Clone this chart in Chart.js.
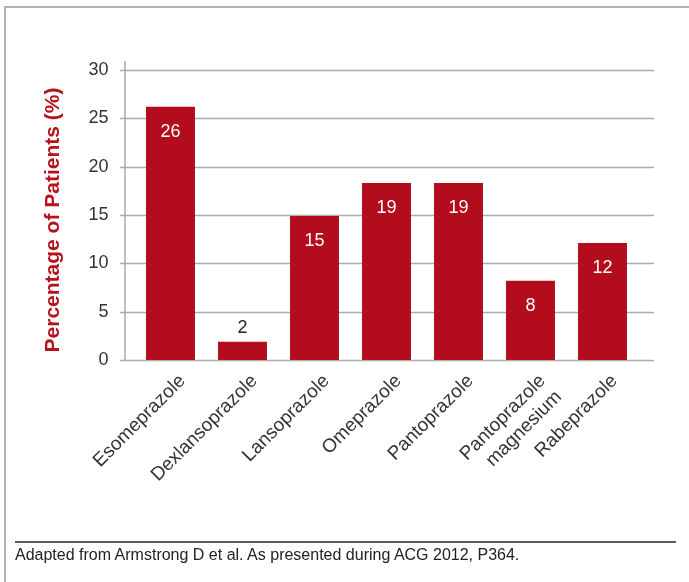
<!DOCTYPE html>
<html>
<head>
<meta charset="utf-8">
<script src="https://cdn.jsdelivr.net/npm/chart.js@4/dist/chart.umd.min.js"></script>
<style>
  html, body { margin: 0; padding: 0; background: #fff; }
  #wrap { position: relative; width: 689px; height: 582px; overflow: hidden; }
  #frame { position: absolute; left: 4px; top: 6px; width: 700px; height: 600px;
           border-top: 2px solid #b0b0b0; border-left: 2px solid #b0b0b0; pointer-events: none; }
  #c { position: absolute; left: 0; top: 0; }
  #foot { position: absolute; left: 15px; top: 541px; width: 661px; border-top: 2px solid #5a5a5a;
          font-family: "Liberation Sans", Arial, sans-serif; font-size: 16px; color: #222;
          padding-top: 2px; line-height: 19px; }
</style>
</head>
<body>
<div id="wrap">
  <canvas id="c" width="689" height="582"></canvas>
  <div id="frame"></div>
  <div id="foot">Adapted from Armstrong D et al. As presented during ACG 2012, P364.</div>
</div>
<script>
const categories = ["Esomeprazole", "Dexlansoprazole", "Lansoprazole", "Omeprazole", "Pantoprazole", ["Pantoprazole", "magnesium"], "Rabeprazole"];
const values = [26.2, 1.9, 14.9, 18.3, 18.3, 8.2, 12.1];
const valueLabels = ["26", "2", "15", "19", "19", "8", "12"];
const yTicks = [0, 5, 10, 15, 20, 25, 30];
const yTitle = "Percentage of Patients (%)";

const RED = "#b30d1d";
const GRID = "#ababab";
const FONT = "'Liberation Sans', Arial, sans-serif";

const gridPlugin = {
  id: "gridPlugin",
  beforeDatasetsDraw(chart) {
    const { ctx, chartArea, scales } = chart;
    const y = scales.y;
    const left = chartArea.left - 14.5, right = chartArea.right + 15.5;
    ctx.save();
    ctx.strokeStyle = GRID;
    ctx.lineWidth = 1.5;
    yTicks.forEach(v => {
      const py = Math.round(y.getPixelForValue(v)) + 0.5;
      ctx.beginPath(); ctx.moveTo(left, py); ctx.lineTo(right, py); ctx.stroke();
    });
    const ax = chartArea.left - 9.5;
    ctx.beginPath();
    ctx.moveTo(ax, y.getPixelForValue(30) - 9);
    ctx.lineTo(ax, y.getPixelForValue(0));
    ctx.stroke();
    // y-axis title
    ctx.translate(53, (chartArea.top + chartArea.bottom) / 2 + 5);
    ctx.rotate(-Math.PI / 2);
    ctx.fillStyle = "#b5121b";
    ctx.font = "bold 21px " + FONT;
    ctx.textAlign = "center";
    ctx.textBaseline = "middle";
    ctx.fillText(yTitle, 0, 0);
    ctx.restore();
  }
};

const labelPlugin = {
  id: "labelPlugin",
  afterDatasetsDraw(chart) {
    const { ctx } = chart;
    const meta = chart.getDatasetMeta(0);
    ctx.save();
    ctx.font = "18px " + FONT;
    ctx.textAlign = "center";
    ctx.textBaseline = "middle";
    meta.data.forEach((bar, i) => {
      const inside = values[i] >= 5;
      ctx.fillStyle = inside ? "#ffffff" : "#222222";
      const ty = inside ? bar.y + 25 : bar.y - 14;
      ctx.fillText(valueLabels[i], bar.x, ty);
    });
    ctx.restore();
  }
};

new Chart(document.getElementById("c"), {
  type: "bar",
  data: {
    labels: categories,
    datasets: [{
      data: values,
      backgroundColor: RED,
      borderWidth: 0,
      categoryPercentage: 1.0,
      barPercentage: 0.68
    }]
  },
  options: {
    responsive: false,
    animation: false,
    devicePixelRatio: 1,
    layout: { padding: { left: 0, right: 50.5, top: 70, bottom: 0 } },
    plugins: { legend: { display: false }, tooltip: { enabled: false } },
    scales: {
      x: {
        grid: { display: false, drawTicks: false },
        border: { display: false },
        ticks: {
          color: "#333",
          font: { family: FONT, size: 19 },
          maxRotation: 45, minRotation: 45,
          padding: 10,
          labelOffset: 12,
          autoSkip: false
        },
        afterFit(scale) { scale.height = 222; }
      },
      y: {
        min: 0, max: 30,
        afterBuildTicks(scale) { scale.ticks = yTicks.map(v => ({ value: v })); },
        grid: { display: false, drawTicks: false },
        border: { display: false },
        ticks: { color: "#333", font: { family: FONT, size: 18 }, padding: 26 },
        title: { display: false },
        afterFit(scale) { scale.width = 134.5; }
      }
    }
  },
  plugins: [gridPlugin, labelPlugin]
});
</script>
</body>
</html>
